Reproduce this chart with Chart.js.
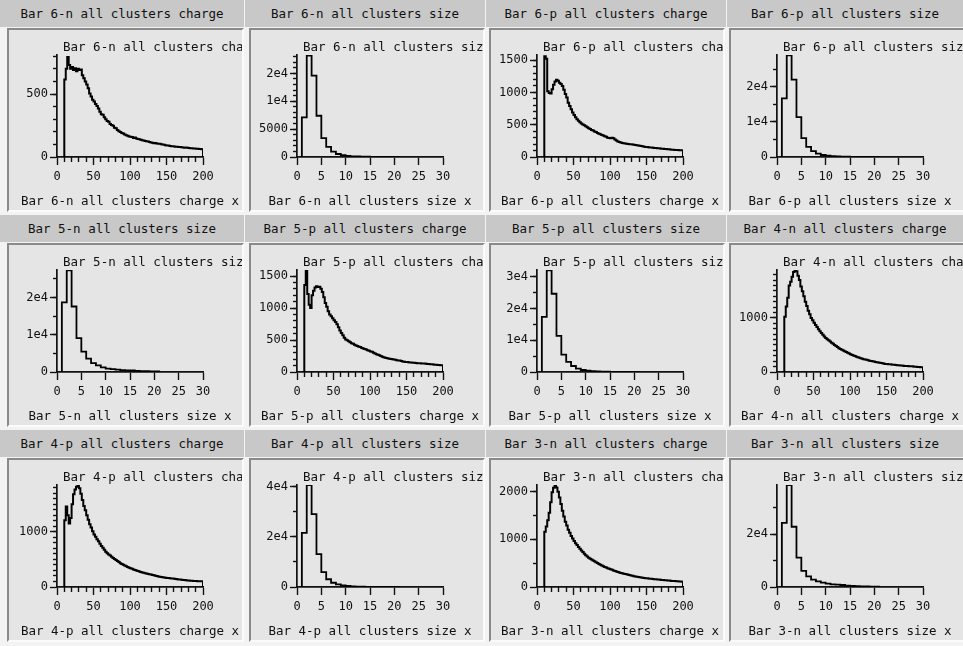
<!DOCTYPE html>
<html><head><meta charset="utf-8">
<script src="https://cdn.jsdelivr.net/npm/chart.js@4.4.1/dist/chart.umd.min.js"></script>
<style>
html,body{margin:0;padding:0;background:#f3f3f3;width:963px;height:646px;overflow:hidden;font-family:"DejaVu Sans Mono",monospace;}
.hdr{position:absolute;height:27px;background:#c8c8c8;color:#111;font-size:12.5px;line-height:27px;text-align:center;white-space:nowrap;overflow:hidden;}
.pnl{position:absolute;background:#e5e5e5;border-top:2px solid #8a8a8a;border-left:2px solid #8a8a8a;border-right:2px solid #fbfbfb;border-bottom:2px solid #fbfbfb;overflow:hidden;}
.pnl canvas{position:absolute;left:0;top:0;}
</style></head>
<body>
<script>
// ---------------- data ----------------
const panelTitles = [
  "Bar 6-n all clusters charge","Bar 6-n all clusters size","Bar 6-p all clusters charge","Bar 6-p all clusters size",
  "Bar 5-n all clusters size","Bar 5-p all clusters charge","Bar 5-p all clusters size","Bar 4-n all clusters charge",
  "Bar 4-p all clusters charge","Bar 4-p all clusters size","Bar 3-n all clusters charge","Bar 3-n all clusters size"
];

// charge histograms: bins of width 2 starting at 10 (10..200)
const chargeBinStart = 10, chargeBinWidth = 2;
// size histograms: bins of width 1 starting at 1 (1..21)
const sizeBinStart = 1, sizeBinWidth = 1;

const bar6nCharge = [615,700,795,730,700,715,690,705,680,700,690,695,650,625,600,575,545,505,480,455,
  440,420,405,385,360,340,335,315,300,285,280,262,255,248,232,228,215,205,198,190,
  186,178,172,168,163,160,158,150,155,146,142,140,137,133,131,128,125,124,120,116,
  113,110,112,107,106,105,101,99,98,94,92,91,88,86,85,84,82,81,80,79,
  77,76,74,75,73,71,70,69,68,67,66,65,64,63,62];
const bar6pCharge = [1560,1520,1020,990,985,1050,1120,1170,1195,1180,1150,1130,1100,1040,975,920,840,790,740,690,
  650,615,585,560,540,520,505,490,475,460,445,432,420,410,395,388,372,362,352,340,
  332,322,312,300,295,290,298,290,270,255,240,232,226,218,214,208,205,202,199,198,
  195,190,186,182,177,175,170,165,160,156,154,150,148,146,144,141,139,136,134,132,
  129,127,125,123,121,119,117,114,113,110,109,108,106,105,104];
const bar5pCharge = [1360,1590,1220,1050,1000,1200,1270,1320,1340,1330,1335,1300,1250,1170,1080,1020,950,900,870,840,
  810,780,745,700,650,610,575,535,510,495,480,465,450,440,425,415,405,395,390,375,
  368,358,350,340,332,322,315,300,290,278,268,260,250,238,230,222,218,212,206,202,
  199,195,190,185,180,178,172,166,162,158,155,152,150,148,146,144,140,138,136,135,
  133,131,132,130,127,124,121,120,117,114,112,110,108,106,104];
const bar4nCharge = [1020,1210,1370,1600,1670,1760,1850,1880,1860,1780,1700,1580,1490,1400,1300,1220,1130,1065,1000,955,
  910,870,830,790,755,720,690,655,630,605,585,562,540,520,500,480,462,440,425,410,
  398,382,368,355,342,330,315,305,295,282,272,262,252,245,236,230,225,218,210,204,
  198,192,186,182,176,172,166,160,154,150,147,144,141,138,135,132,128,125,123,120,
  118,115,113,111,110,108,106,105,102,99,96,94,91,88,86];
const bar4pCharge = [1210,1460,1300,1150,1250,1500,1680,1770,1820,1845,1790,1690,1580,1470,1390,1300,1220,1140,1080,1010,
  950,910,865,830,785,745,710,675,640,612,590,570,548,528,510,490,472,452,432,418,
  402,388,375,362,350,340,330,318,308,298,290,280,272,265,258,250,244,238,232,226,
  218,212,205,198,192,186,181,176,172,168,165,162,159,156,153,150,146,142,138,134,
  131,128,125,122,120,118,115,112,110,108,107,106,105,104,103];
const bar3nCharge = [1160,1270,1400,1560,1780,1990,2080,2120,2090,2000,1880,1740,1600,1480,1370,1290,1200,1140,1070,1015,
  965,920,880,840,800,765,735,700,668,640,615,595,575,555,538,520,502,485,468,452,
  436,422,408,396,384,372,360,348,338,326,315,304,295,288,280,272,265,258,250,242,
  235,228,222,215,210,204,199,194,190,185,181,178,175,171,168,165,162,159,155,152,
  149,146,143,140,137,134,131,128,126,124,122,119,117,115,112];

const bar6nSize = [7100,18200,14600,7400,3400,1800,950,540,320,200,130,90,65,50,40,30,25,20,15,12];
const bar6pSize = [16700,29000,22100,11400,5400,2900,1700,950,570,380,220,140,95,65,45,35,25,20,15,10];
const bar5nSize = [18700,27300,17600,9100,5500,3600,2400,1800,1250,900,780,620,520,450,400,300,250,200,180,150];
const bar5pSize = [17400,32100,24700,11400,5500,3200,1900,1050,630,420,250,160,110,80,60,45,35,25,20,15];
const bar4pSize = [21600,40700,29100,13100,5900,3100,1700,1070,670,400,250,160,110,80,60,45,35,25,20,15];
const bar3nSize = [24300,38600,22800,11100,6100,4050,2800,2150,1650,1270,1000,890,760,500,380,300,250,200,160,130];

// x axis ticks
const chargeXTicks = [0,50,100,150,200];
const chargeXLabels = ["0","50","100","150","200"];
const chargeXMinor = [10,20,30,40,60,70,80,90,110,120,130,140,160,170,180,190];
const sizeXTicks = [0,5,10,15,20,25,30];
const sizeXLabels = ["0","5","10","15","20","25","30"];
const sizeXMinor = [];

// y axis ticks (per panel)
const yTicks6nCharge = [0,500],            yLabels6nCharge = ["0","500"];
const yTicks6nSize = [0,5000,10000,15000], yLabels6nSize = ["0","5000","1e4","2e4"];
const yTicks6pCharge = [0,500,1000,1500],  yLabels6pCharge = ["0","500","1000","1500"];
const yTicks6pSize = [0,10000,20000],      yLabels6pSize = ["0","1e4","2e4"];
const yTicks5nSize = [0,10000,20000],      yLabels5nSize = ["0","1e4","2e4"];
const yTicks5pCharge = [0,500,1000,1500],  yLabels5pCharge = ["0","500","1000","1500"];
const yTicks5pSize = [0,10000,20000,30000],yLabels5pSize = ["0","1e4","2e4","3e4"];
const yTicks4nCharge = [0,1000],           yLabels4nCharge = ["0","1000"];
const yTicks4pCharge = [0,1000],           yLabels4pCharge = ["0","1000"];
const yTicks4pSize = [0,20000,40000],      yLabels4pSize = ["0","2e4","4e4"];
const yTicks3nCharge = [0,1000,2000],      yLabels3nCharge = ["0","1000","2000"];
const yTicks3nSize = [0,20000],            yLabels3nSize = ["0","2e4"];

// y axis ranges and minor tick steps (per panel)
const yMax = [810,18300,1580,29100, 27400,1595,32200,1885, 1850,40700,2140,38600];
const yMinorStep = [100,1000,100,5000, 5000,100,5000,100, 100,10000,500,10000];

// ---------------- build ----------------
const panelDefs = [
  {kind:'charge', values:bar6nCharge, yT:yTicks6nCharge, yL:yLabels6nCharge},
  {kind:'size',   values:bar6nSize,   yT:yTicks6nSize,   yL:yLabels6nSize},
  {kind:'charge', values:bar6pCharge, yT:yTicks6pCharge, yL:yLabels6pCharge},
  {kind:'size',   values:bar6pSize,   yT:yTicks6pSize,   yL:yLabels6pSize},
  {kind:'size',   values:bar5nSize,   yT:yTicks5nSize,   yL:yLabels5nSize},
  {kind:'charge', values:bar5pCharge, yT:yTicks5pCharge, yL:yLabels5pCharge},
  {kind:'size',   values:bar5pSize,   yT:yTicks5pSize,   yL:yLabels5pSize},
  {kind:'charge', values:bar4nCharge, yT:yTicks4nCharge, yL:yLabels4nCharge},
  {kind:'charge', values:bar4pCharge, yT:yTicks4pCharge, yL:yLabels4pCharge},
  {kind:'size',   values:bar4pSize,   yT:yTicks4pSize,   yL:yLabels4pSize},
  {kind:'charge', values:bar3nCharge, yT:yTicks3nCharge, yL:yLabels3nCharge},
  {kind:'size',   values:bar3nSize,   yT:yTicks3nSize,   yL:yLabels3nSize}
];

const FONT = '"DejaVu Sans Mono", monospace';
const headerLeft = [0,245,486,727], headerWidth = [244,240,240,236];
const panelLeft = [7,249,489,729], panelRight = [244,485,725,965];
const axisLeft = [57,297,537,777], plotW = 146;
const rowTop = [0,215,430];

const panelText = {
  id:'panelText',
  afterDraw(chart, args, opts){
    const {ctx, chartArea} = chart;
    ctx.save();
    ctx.font = '12.5px ' + FONT;
    ctx.fillStyle = '#111';
    ctx.textBaseline = 'middle';
    ctx.textAlign = 'left';
    ctx.fillText(opts.title, chartArea.left + 6, chartArea.top - 7);
    ctx.textAlign = 'center';
    ctx.fillText(opts.xTitle, (chartArea.left + chartArea.right) / 2, chartArea.bottom + 45);
    ctx.restore();
  }
};

function stepPoints(start, width, vals){
  const pts = [{x:start, y:0}];
  vals.forEach((v,i) => pts.push({x:start + i*width, y:v}));
  pts.push({x:start + vals.length*width, y:0});
  return pts;
}

panelDefs.forEach((p, idx) => {
  const r = Math.floor(idx/4), c = idx % 4;
  const title = panelTitles[idx];
  const hdr = document.createElement('div');
  hdr.className = 'hdr';
  hdr.style.left = headerLeft[c] + 'px';
  hdr.style.top = rowTop[r] + 'px';
  hdr.style.width = headerWidth[c] + 'px';
  hdr.textContent = title;
  document.body.appendChild(hdr);

  const pnl = document.createElement('div');
  pnl.className = 'pnl';
  const pw = panelRight[c] - panelLeft[c] - 4;
  pnl.style.left = panelLeft[c] + 'px';
  pnl.style.top = (rowTop[r] + 28) + 'px';
  pnl.style.width = pw + 'px';
  pnl.style.height = '180px';
  document.body.appendChild(pnl);
  const cv = document.createElement('canvas');
  cv.width = pw; cv.height = 180;
  cv.style.width = pw + 'px'; cv.style.height = '180px';
  pnl.appendChild(cv);

  const canvasLeft = panelLeft[c] + 2;
  const yAxisW = axisLeft[c] - canvasLeft;
  const padRight = pw - (axisLeft[c] + plotW - canvasLeft);
  const isCharge = p.kind === 'charge';
  const xMax = isCharge ? 200 : 30;
  const xT = isCharge ? chargeXTicks : sizeXTicks;
  const xL = isCharge ? chargeXLabels : sizeXLabels;
  const xM = isCharge ? chargeXMinor : sizeXMinor;
  const pts = isCharge ? stepPoints(chargeBinStart, chargeBinWidth, p.values)
                       : stepPoints(sizeBinStart, sizeBinWidth, p.values);
  const yM = [];
  for (let v = yMinorStep[idx]; v <= yMax[idx]; v += yMinorStep[idx]) yM.push(v);

  const tickFont = {family: FONT, size: 12};
  new Chart(cv, {
    type:'line',
    data:{datasets:[{data:pts, stepped:true, borderColor:'#000', borderWidth: isCharge ? 2 : 1.8,
      pointRadius:0, fill:false, tension:0, xAxisID:'x', yAxisID:'y'}]},
    options:{
      responsive:false, animation:false, devicePixelRatio:1,
      layout:{padding:{left:0, top:25, right:padRight, bottom:0}},
      plugins:{legend:{display:false}, tooltip:{enabled:false}, title:{display:false},
        panelText:{title:title, xTitle:title + ' x'}},
      scales:{
        x:{type:'linear', position:'bottom', weight:1, min:0, max:xMax, bounds:'data',
          afterBuildTicks:s => { s.ticks = xT.map(v => ({value:v})); },
          afterFit:s => { s.height = 53; },
          ticks:{autoSkip:false, maxRotation:0, minRotation:0, padding:5, color:'#111', font:tickFont,
            callback:(v,i) => xL[i]},
          grid:{drawOnChartArea:false, drawTicks:true, tickLength:8, tickColor:'#111', tickWidth:1.4},
          border:{display:true, color:'#111', width:1.7}},
        xm:{type:'linear', position:'bottom', weight:0, min:0, max:xMax, bounds:'data',
          afterBuildTicks:s => { s.ticks = xM.map(v => ({value:v})); },
          afterFit:s => { s.height = 0; },
          ticks:{display:false},
          grid:{drawOnChartArea:false, drawTicks:true, tickLength:5, tickColor:'#111', tickWidth:1.4},
          border:{display:false}},
        y:{type:'linear', position:'left', weight:1, min:0, max:yMax[idx], bounds:'data',
          afterBuildTicks:s => { s.ticks = p.yT.map(v => ({value:v})); },
          afterFit:s => { s.width = yAxisW; },
          ticks:{autoSkip:false, padding:2, color:'#111', font:tickFont, callback:(v,i) => p.yL[i]},
          grid:{drawOnChartArea:false, drawTicks:true, tickLength:7, tickColor:'#111', tickWidth:1.4},
          border:{display:true, color:'#111', width:1.7}},
        ym:{type:'linear', position:'left', weight:0, min:0, max:yMax[idx], bounds:'data',
          afterBuildTicks:s => { s.ticks = yM.map(v => ({value:v})); },
          afterFit:s => { s.width = 0; },
          ticks:{display:false},
          grid:{drawOnChartArea:false, drawTicks:true, tickLength:4, tickColor:'#111', tickWidth:1.4},
          border:{display:false}}
      }
    },
    plugins:[panelText]
  });
});
</script>
</body></html>
